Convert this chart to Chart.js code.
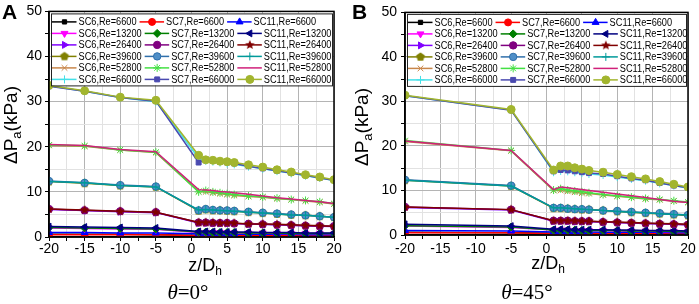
<!DOCTYPE html>
<html><head><meta charset="utf-8">
<script src="https://cdn.jsdelivr.net/npm/chart.js@4.4.1/dist/chart.umd.min.js"></script>
<style>
html,body{margin:0;padding:0;background:#fff;width:699px;height:304px;overflow:hidden;position:relative;font-family:"Liberation Sans",Arial,sans-serif}
canvas{position:absolute;top:0}
#cA{left:0}#cB{left:350px}
.pl{position:absolute;font-weight:bold;font-size:21px;top:0px;color:#000}
.cap{position:absolute;top:280px;width:100px;text-align:center;font-family:"Liberation Serif","Times New Roman",serif;font-size:21px;white-space:nowrap;color:#000}
</style></head><body>
<canvas id="cA" width="350" height="304"></canvas>
<canvas id="cB" width="349" height="304"></canvas>
<div class="pl" style="left:2px">A</div>
<div class="pl" style="left:352px">B</div>
<div class="cap" style="left:138px"><i>θ</i>=0°</div>
<div class="cap" style="left:477px"><i>θ</i>=45°</div>
<script>
// ---------- categories ----------
const configs = ['SC6', 'SC7', 'SC11'];
const reynolds = [6600, 13200, 26400, 39600, 52800, 66000];
const xTicksMajor = [-20, -15, -10, -5, 0, 5, 10, 15, 20];
const yTicksMajor = [0, 10, 20, 30, 40, 50];

// ---------- panel A (theta = 0) ----------
const zA = [-20, -15, -10, -5, 1, 2, 3, 4, 5, 6, 8, 10, 12, 14, 16, 18, 20];
const A_SC6_6600   = [0.6, 0.6, 0.6, 0.5, 0.4, 0.4, 0.4, 0.4, 0.4, 0.4, 0.3, 0.3, 0.3, 0.3, 0.3, 0.3, 0.3];
const A_SC7_6600   = [0.5, 0.5, 0.5, 0.5, 0.3, 0.3, 0.3, 0.3, 0.3, 0.3, 0.3, 0.3, 0.3, 0.3, 0.3, 0.3, 0.3];
const A_SC11_6600  = [1.0, 1.0, 0.9, 0.9, 0.7, 0.7, 0.7, 0.7, 0.6, 0.6, 0.6, 0.6, 0.6, 0.6, 0.5, 0.5, 0.5];
const A_SC6_13200  = [2.0, 1.9, 1.8, 1.7, 1.0, 1.0, 1.0, 1.0, 0.9, 0.9, 0.9, 0.9, 0.8, 0.8, 0.8, 0.8, 0.7];
const A_SC7_13200  = [2.1, 2.0, 1.9, 1.8, 1.1, 1.1, 1.0, 1.0, 1.0, 1.0, 0.9, 0.9, 0.9, 0.8, 0.8, 0.8, 0.8];
const A_SC11_13200 = [2.3, 2.2, 2.1, 2.0, 1.2, 1.2, 1.2, 1.1, 1.1, 1.1, 1.1, 1.0, 1.0, 1.0, 0.9, 0.9, 0.9];
const A_SC6_26400  = [6.1, 5.9, 5.6, 5.4, 3.1, 3.1, 3.1, 3.0, 3.0, 3.0, 2.9, 2.8, 2.7, 2.6, 2.5, 2.4, 2.3];
const A_SC7_26400  = [6.2, 5.9, 5.7, 5.5, 3.2, 3.2, 3.1, 3.1, 3.1, 3.0, 2.9, 2.8, 2.7, 2.6, 2.5, 2.4, 2.4];
const A_SC11_26400 = [6.2, 6.0, 5.7, 5.5, 3.2, 3.2, 3.2, 3.1, 3.1, 3.1, 2.9, 2.9, 2.8, 2.7, 2.6, 2.5, 2.4];
const A_SC6_39600  = [12.3, 11.9, 11.4, 11.1, 5.8, 6.1, 5.9, 5.9, 5.8, 5.7, 5.5, 5.3, 5.1, 4.9, 4.8, 4.6, 4.4];
const A_SC7_39600  = [12.4, 12.0, 11.5, 11.2, 5.9, 6.2, 6.0, 5.9, 5.9, 5.8, 5.6, 5.4, 5.2, 5.0, 4.8, 4.6, 4.4];
const A_SC11_39600 = [12.3, 12.0, 11.4, 11.1, 6.0, 6.1, 6.0, 5.9, 5.8, 5.7, 5.5, 5.3, 5.1, 4.9, 4.8, 4.6, 4.4];
const A_SC6_52800  = [20.3, 20.1, 19.3, 18.7, 10.1, 10.0, 9.8, 9.6, 9.4, 9.2, 9.0, 8.8, 8.5, 8.3, 8.0, 7.7, 7.3];
const A_SC7_52800  = [20.4, 20.2, 19.3, 18.8, 10.0, 10.3, 10.0, 9.8, 9.6, 9.4, 9.1, 8.9, 8.6, 8.3, 8.1, 7.8, 7.4];
const A_SC11_52800 = [20.5, 20.3, 19.4, 18.9, 10.5, 10.4, 10.3, 10.1, 10.0, 9.8, 9.5, 9.1, 8.7, 8.4, 8.1, 7.8, 7.4];
const A_SC6_66000  = [33.5, 32.3, 30.9, 30.0, 17.5, 16.9, 16.7, 16.5, 16.3, 16.1, 15.6, 15.1, 14.6, 14.1, 13.6, 13.1, 12.5];
const A_SC7_66000  = [33.4, 32.3, 30.9, 30.1, 16.5, 17.2, 16.9, 16.7, 16.5, 16.3, 15.7, 15.2, 14.7, 14.2, 13.7, 13.1, 12.6];
const A_SC11_66000 = [33.6, 32.4, 31.0, 30.3, 18.1, 17.1, 17.0, 16.8, 16.7, 16.5, 16.0, 15.5, 14.9, 14.4, 13.8, 13.3, 12.7];

// ---------- panel B (theta = 45) ----------
const zB = [-20, -5, 1, 2, 3, 4, 5, 6, 8, 10, 12, 14, 16, 18, 20];
const B_SC6_6600   = [0.6, 0.5, 0.4, 0.4, 0.4, 0.4, 0.4, 0.4, 0.3, 0.3, 0.3, 0.3, 0.3, 0.3, 0.3];
const B_SC7_6600   = [0.5, 0.5, 0.3, 0.3, 0.3, 0.3, 0.3, 0.3, 0.3, 0.3, 0.3, 0.3, 0.3, 0.3, 0.3];
const B_SC11_6600  = [1.0, 0.9, 0.7, 0.7, 0.7, 0.7, 0.7, 0.7, 0.6, 0.6, 0.6, 0.6, 0.6, 0.5, 0.5];
const B_SC6_13200  = [2.0, 1.7, 1.1, 1.1, 1.1, 1.0, 1.0, 1.0, 1.0, 0.9, 0.9, 0.9, 0.8, 0.8, 0.8];
const B_SC7_13200  = [2.1, 1.8, 1.1, 1.1, 1.1, 1.1, 1.0, 1.0, 1.0, 1.0, 0.9, 0.9, 0.9, 0.8, 0.8];
const B_SC11_13200 = [2.4, 2.0, 1.3, 1.3, 1.3, 1.2, 1.2, 1.2, 1.2, 1.1, 1.1, 1.0, 1.0, 1.0, 0.9];
const B_SC6_26400  = [6.2, 5.6, 3.1, 3.1, 3.1, 3.0, 3.0, 3.0, 2.9, 2.8, 2.7, 2.6, 2.5, 2.4, 2.3];
const B_SC7_26400  = [6.3, 5.7, 3.2, 3.2, 3.2, 3.1, 3.1, 3.1, 2.9, 2.8, 2.7, 2.6, 2.5, 2.4, 2.3];
const B_SC11_26400 = [6.3, 5.7, 3.2, 3.2, 3.2, 3.2, 3.1, 3.1, 3.0, 2.9, 2.8, 2.7, 2.6, 2.5, 2.4];
const B_SC6_39600  = [12.3, 11.0, 6.0, 6.0, 5.9, 5.8, 5.7, 5.7, 5.5, 5.3, 5.1, 4.9, 4.8, 4.6, 4.4];
const B_SC7_39600  = [12.4, 11.1, 6.1, 6.1, 5.9, 5.8, 5.8, 5.7, 5.5, 5.4, 5.2, 5.0, 4.9, 4.7, 4.5];
const B_SC11_39600 = [12.3, 11.0, 6.1, 6.1, 6.0, 5.9, 5.8, 5.7, 5.5, 5.3, 5.1, 5.0, 4.8, 4.6, 4.5];
const B_SC6_52800  = [21.0, 18.9, 10.0, 10.0, 9.8, 9.6, 9.4, 9.3, 9.0, 8.7, 8.4, 8.1, 7.9, 7.6, 7.3];
const B_SC7_52800  = [21.2, 19.0, 10.1, 10.4, 10.1, 9.9, 9.7, 9.5, 9.1, 8.8, 8.5, 8.2, 8.0, 7.7, 7.4];
const B_SC11_52800 = [21.1, 19.0, 10.2, 10.8, 10.6, 10.4, 10.2, 10.0, 9.6, 9.2, 8.8, 8.4, 8.0, 7.6, 7.3];
const B_SC6_66000  = [31.3, 28.1, 14.1, 14.4, 14.3, 14.1, 13.9, 13.7, 13.5, 13.0, 12.6, 12.2, 11.6, 11.1, 10.5];
const B_SC7_66000  = [31.3, 28.0, 14.3, 14.6, 14.5, 14.3, 14.1, 13.9, 13.7, 13.2, 12.7, 12.3, 11.7, 11.1, 10.6];
const B_SC11_66000 = [31.4, 28.2, 14.6, 15.5, 15.5, 15.1, 14.8, 14.5, 14.1, 13.6, 13.1, 12.6, 12.0, 11.4, 10.8];

const seriesA = [A_SC6_6600, A_SC7_6600, A_SC11_6600, A_SC6_13200, A_SC7_13200, A_SC11_13200,
  A_SC6_26400, A_SC7_26400, A_SC11_26400, A_SC6_39600, A_SC7_39600, A_SC11_39600,
  A_SC6_52800, A_SC7_52800, A_SC11_52800, A_SC6_66000, A_SC7_66000, A_SC11_66000];
const seriesB = [B_SC6_6600, B_SC7_6600, B_SC11_6600, B_SC6_13200, B_SC7_13200, B_SC11_13200,
  B_SC6_26400, B_SC7_26400, B_SC11_26400, B_SC6_39600, B_SC7_39600, B_SC11_39600,
  B_SC6_52800, B_SC7_52800, B_SC11_52800, B_SC6_66000, B_SC7_66000, B_SC11_66000];

// ---------- styles ----------
function shapeCanvas(color, n, r, inner) {
  const s = Math.ceil(r * 2 + 2), c = document.createElement('canvas');
  c.width = c.height = s;
  const g = c.getContext('2d');
  g.fillStyle = color; g.beginPath();
  const pts = inner ? n * 2 : n;
  for (let k = 0; k < pts; k++) {
    const a = -Math.PI / 2 + k * 2 * Math.PI / pts;
    const rr = inner && (k % 2) ? r * inner : r;
    g.lineTo(s / 2 + rr * Math.cos(a), s / 2 + rr * Math.sin(a));
  }
  g.closePath(); g.fill();
  return c;
}
const styles = [
  {c:'#000000', p:'rect', rot:0, r:3},
  {c:'#ff0000', p:'circle', rot:0, r:3.5},
  {c:'#0000ff', p:'triangle', rot:0, r:4},
  {c:'#ff00ff', p:'triangle', rot:180, r:4},
  {c:'#008000', p:'rectRot', rot:0, r:4},
  {c:'#000080', p:'triangle', rot:-90, r:4},
  {c:'#8000ff', p:'triangle', rot:90, r:4},
  {c:'#800080', p:'circle', rot:0, r:3.7},
  {c:'#800000', p:shapeCanvas('#800000', 5, 5, 0.45), rot:0, r:4.5},
  {c:'#808000', p:shapeCanvas('#808000', 5, 4.6), rot:0, r:4.5},
  {c:'#2f6fab', bg:'#4f8fc8', p:'circle', rot:0, r:3.7},
  {c:'#009a9a', p:'cross', rot:0, r:4},
  {c:'#c8864a', p:'crossRot', rot:0, r:4},
  {c:'#44e044', p:'star', rot:0, r:4},
  {c:'#d0207a', p:'circle', rot:0, r:0},
  {c:'#44e0e8', p:'cross', rot:0, r:4},
  {c:'#4a4ab0', p:'rect', rot:0, r:3.5},
  {c:'#a2b52e', p:'circle', rot:0, r:4}
];
const labels = [];
reynolds.forEach(re => configs.forEach(sc => labels.push(sc + ',Re=' + re)));

function buildDatasets(xs, series) {
  return series.map((ys, i) => {
    const s = styles[i];
    return {
      label: labels[i],
      data: xs.map((x, k) => ({x: x, y: ys[k]})),
      borderColor: s.c, backgroundColor: s.bg || s.c,
      pointBackgroundColor: s.bg || s.c, pointBorderColor: s.c,
      pointStyle: s.p, pointRotation: s.rot, pointRadius: s.r, pointBorderWidth: 1,
      borderWidth: 1.5, tension: 0, order: -i
    };
  });
}

// ---------- plugins ----------
const framePlugin = {
  id: 'frameAndLegend',
  afterDraw(chart, args, o) {
    const ctx = chart.ctx, ca = chart.chartArea;
    ctx.save();
    // legend box (items flow row by row, 3 per row)
    const L = ca.left + o.lx, T = ca.top + o.ly, W = o.lw, H = o.lh;
    ctx.fillStyle = '#fff'; ctx.fillRect(L, T, W, H);
    ctx.strokeStyle = '#222'; ctx.lineWidth = 1; ctx.strokeRect(L + 0.5, T + 0.5, W, H);
    const font = '10px "Liberation Sans", Arial, sans-serif', squeeze = 0.92;
    let cursor = L + 1;
    chart.data.datasets.forEach((ds, i) => {
      const s = styles[i];
      const row = Math.floor(i / 3);
      if (i % 3 === 0) cursor = L + 1;
      const cy = T + o.row0 + row * o.rowH;
      ctx.strokeStyle = s.c; ctx.lineWidth = 1.5;
      ctx.beginPath(); ctx.moveTo(cursor, cy); ctx.lineTo(cursor + 24.5, cy); ctx.stroke();
      if (s.r > 0) {
        ctx.fillStyle = s.bg || s.c; ctx.strokeStyle = s.c; ctx.lineWidth = 1;
        Chart.helpers.drawPoint(ctx, {pointStyle: s.p, rotation: s.rot, radius: s.r, borderWidth: 1}, cursor + 12.5, cy);
      }
      ctx.fillStyle = '#000'; ctx.font = font;
      ctx.textBaseline = 'middle'; ctx.textAlign = 'left';
      const tw = ctx.measureText(ds.label).width * squeeze;
      ctx.fillText(ds.label, cursor + 26.5, cy + 0.5, tw);
      cursor = cursor + 26.5 + tw + 3;
    });
    // frame
    ctx.strokeStyle = '#000'; ctx.lineWidth = 1.5;
    ctx.strokeRect(ca.left, ca.top, ca.right - ca.left, ca.bottom - ca.top);
    // axis titles
    ctx.fillStyle = '#000'; ctx.textBaseline = 'alphabetic'; ctx.textAlign = 'left';
    const big = '18px "Liberation Sans", Arial, sans-serif', small = '12px "Liberation Sans", Arial, sans-serif';
    const bigY = '19px "Liberation Sans", Arial, sans-serif', smallY = '13px "Liberation Sans", Arial, sans-serif';
    ctx.font = big; const w1 = ctx.measureText('z/D').width;
    ctx.font = small; const w2 = ctx.measureText('h').width;
    let x0 = o.xt[0] - (w1 + w2) / 2;
    ctx.font = big; ctx.fillText('z/D', x0, o.xt[1] + 6);
    ctx.font = small; ctx.fillText('h', x0 + w1, o.xt[1] + 10);
    ctx.translate(o.yt[0], o.yt[1]); ctx.rotate(-Math.PI / 2);
    ctx.font = bigY; const a1 = ctx.measureText('ΔP').width, a3 = ctx.measureText('(kPa)').width;
    ctx.font = smallY; const a2 = ctx.measureText('a').width;
    x0 = -(a1 + a2 + a3) / 2;
    ctx.font = bigY; ctx.fillText('ΔP', x0, 7);
    ctx.font = smallY; ctx.fillText('a', x0 + a1, 11);
    ctx.font = bigY; ctx.fillText('(kPa)', x0 + a1 + a2, 7);
    ctx.restore();
  }
};

function makeChart(id, xs, series, lay) {
  const tickFont = {family: '"Liberation Sans", Arial, sans-serif', size: 14};
  new Chart(document.getElementById(id), {
    type: 'line',
    data: {datasets: buildDatasets(xs, series)},
    options: {
      responsive: false, animation: false, events: [],
      layout: {padding: {left: 0, right: lay.pr, top: lay.pt, bottom: 0}},
      plugins: {legend: {display: false}, tooltip: {enabled: false}, frameAndLegend: lay.leg},
      scales: {
        x: {
          type: 'linear', min: -20, max: 20,
          afterFit: s => { s.height = lay.xh; },
          ticks: {stepSize: 2.5, autoSkip: false, maxRotation: 0, color: '#000', font: tickFont, padding: lay.xpad,
            callback: v => xTicksMajor.includes(v) ? String(v) : ''},
          grid: {color: c => xTicksMajor.includes(c.tick.value) ? '#b4b4b4' : '#e2e2e2', lineWidth: 1,
            tickColor: '#000', tickLength: 4},
          border: {color: '#000', width: 1.5}
        },
        y: {
          min: 0, max: 50,
          afterFit: s => { s.width = lay.yw; },
          ticks: {stepSize: 5, autoSkip: false, color: '#000', font: tickFont, padding: lay.ypad,
            callback: v => yTicksMajor.includes(v) ? String(v) : ''},
          grid: {color: c => yTicksMajor.includes(c.tick.value) ? '#b4b4b4' : '#e2e2e2', lineWidth: 1,
            tickColor: '#000', tickLength: 4},
          border: {color: '#000', width: 1.5}
        }
      }
    },
    plugins: [framePlugin]
  });
}

makeChart('cA', zA, seriesA, {pr: 16, pt: 9, xh: 67, yw: 49, xpad: 0, ypad: 3,
  leg: {lx: 2, ly: 2, lw: 281, lh: 72, row0: 8.5, rowH: 11.5, xt: [205, 265], yt: [10, 125]}});
makeChart('cB', zB, seriesB, {pr: 11, pt: 9, xh: 69, yw: 55, xpad: 2, ypad: 4,
  leg: {lx: 2, ly: 1.5, lw: 279, lh: 72, row0: 8.5, rowH: 11.5, xt: [198, 263], yt: [11, 127]}});
</script>
</body></html>
